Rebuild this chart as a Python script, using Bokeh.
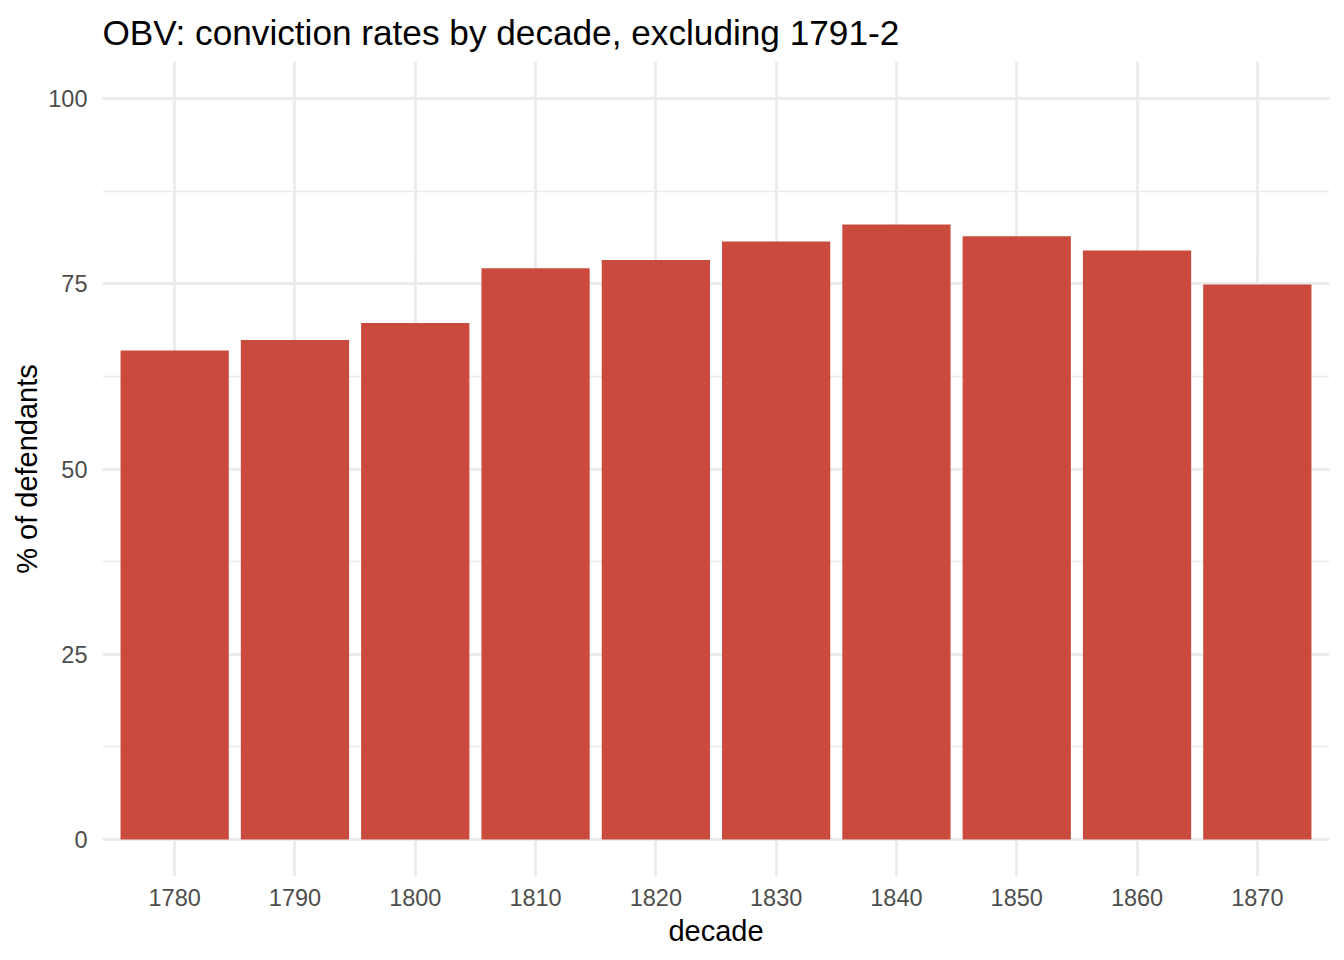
from bokeh.plotting import figure
from bokeh.models import Range1d, FixedTicker
from bokeh.embed import file_html
from bokeh.resources import INLINE

decades = [1780, 1790, 1800, 1810, 1820, 1830, 1840, 1850, 1860, 1870]
conviction_pct = [66.0, 67.4, 69.7, 77.1, 78.2, 80.7, 83.0, 81.4, 79.5, 74.9]
y_ticks = [0, 25, 50, 75, 100]
y_minor = [12.5, 37.5, 62.5, 87.5]
title_text = "OBV: conviction rates by decade, excluding 1791-2"

FONT = "Liberation Sans"
BAR = "#CA4B3E"
GRID = "#EBEBEB"

p = figure(
    frame_width=1227, frame_height=815,
    min_border_left=102, min_border_right=15, min_border_top=61, min_border_bottom=84,
    x_range=Range1d(1774, 1876), y_range=Range1d(-5, 105),
    output_backend="svg", toolbar_location=None,
    title=title_text,
)

p.vbar(x=decades, top=conviction_pct, bottom=0, width=9,
       fill_color=BAR, line_color=None)

p.title.text_font = FONT
p.title.text_font_size = "35.2px"
p.title.text_font_style = "normal"
p.title.text_color = "#000000"
p.title.align = "left"
p.title.standoff = 20

p.outline_line_color = None
p.background_fill_color = "white"
p.border_fill_color = "white"

p.xaxis.ticker = FixedTicker(ticks=decades)
p.yaxis.ticker = FixedTicker(ticks=y_ticks, minor_ticks=y_minor)

for ax in (p.xaxis, p.yaxis):
    ax.axis_line_color = None
    ax.major_tick_line_color = None
    ax.minor_tick_line_color = None
    ax.major_tick_out = 0
    ax.major_tick_in = 0
    ax.minor_tick_out = 0
    ax.minor_tick_in = 0
    ax.major_label_text_font = FONT
    ax.major_label_text_font_size = "23.5px"
    ax.major_label_text_color = "#4D4D4D"
    ax.axis_label_text_font = FONT
    ax.axis_label_text_font_size = "29px"
    ax.axis_label_text_font_style = "normal"
    ax.axis_label_text_color = "#000000"

p.xaxis.axis_label = "decade"
p.yaxis.axis_label = "% of defendants"
p.xaxis.major_label_standoff = 12
p.xaxis.axis_label_standoff = 6
p.yaxis.major_label_standoff = 15
p.yaxis.axis_label_standoff = 2

p.xgrid.grid_line_color = GRID
p.xgrid.grid_line_width = 2.8
p.ygrid.grid_line_color = GRID
p.ygrid.grid_line_width = 2.8
p.ygrid.minor_grid_line_color = GRID
p.ygrid.minor_grid_line_width = 1.4

open("out.html", "w").write(file_html(p, INLINE))
